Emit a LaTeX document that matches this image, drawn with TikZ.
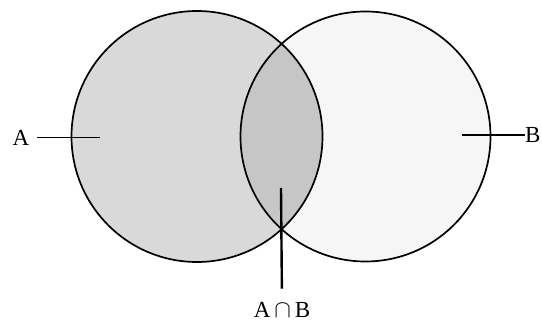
\documentclass[tikz,border=0pt]{standalone}
\usepackage{fontspec}
\setmainfont{Liberation Serif}
\usepackage{tikz}
\begin{document}
\begin{tikzpicture}[x=1pt,y=-1pt,
    setline/.style={line width=1.7pt, black},
    pointer/.style={line width=1.8pt, black},
    setlabel/.style={font=\fontsize{23}{27}\selectfont, inner sep=1pt}]
	\useasboundingbox (0,0) rectangle (542,323);
	\coordinate (ca) at (197,136.5);
	\coordinate (cb) at (365.5,136.5);
	%
	\coordinate (ea) at (100,137.5);
	\coordinate (eb) at (462,135);
	\coordinate (eab) at (281,188);
	% labels
	\node[setlabel] (la) at (21,137.5) {A};
	\node[setlabel, anchor=west, inner sep=0pt] (lb) at (525,135) {B};
	\node[setlabel, anchor=base] (lab) at (282,318) {A\,$\cap$\,B};
	% shading of the two sets
	\fill[gray!30] (ca) circle (125.5pt);
	\fill[gray!7] (cb) circle (125pt);
	\begin{scope}
		\clip (ca) circle (125.5pt);
		\fill[gray!45] (cb) circle (125pt);
	\end{scope}
	% outlines
	\draw[setline] (ca) circle (125.5pt);
	\draw[setline] (cb) circle (125pt);
	% pointers
	\draw[pointer] (la.east) ++(6,0) -- (ea);
	\draw[pointer] (eb) -- (lb.west);
	\draw[pointer, line width=2.4pt, shorten >=13pt] (eab) -- (lab.north);
\end{tikzpicture}
\end{document}
